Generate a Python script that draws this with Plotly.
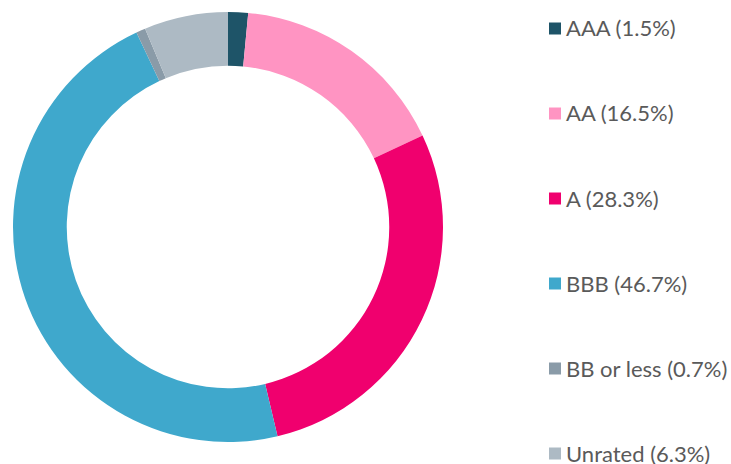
import plotly.graph_objects as go

labels = ["AAA", "AA", "A", "BBB", "BB or less", "Unrated"]
values = [1.5, 16.5, 28.3, 46.7, 0.7, 6.3]
colors = ["#1e5468", "#ff94c2", "#f0006e", "#3fa8cc", "#8a9ba8", "#adbac4"]

W, H = 731, 464

fig = go.Figure()
fig.add_trace(go.Pie(
    labels=labels, values=values, hole=0.75, sort=False, direction="clockwise",
    rotation=0, marker=dict(colors=colors, line=dict(width=0)),
    textinfo="none", hoverinfo="label+percent", showlegend=False,
    domain=dict(x=[13 / W, 443 / W], y=[22 / H, 452 / H]),
))

shapes = []
annotations = []
y0, gap = 28.5, 85
for i, (lab, val, col) in enumerate(zip(labels, values, colors)):
    yc = y0 + i * gap
    shapes.append(dict(type="rect", xref="paper", yref="paper",
                       x0=549 / W, x1=561 / W, y0=1 - (yc + 6) / H, y1=1 - (yc - 6) / H,
                       fillcolor=col, line=dict(width=0)))
    annotations.append(dict(xref="paper", yref="paper", x=564 / W, y=1 - (yc - 0.5) / H,
                            xanchor="left", yanchor="middle", showarrow=False,
                            text=f"{lab} ({val}%)",
                            font=dict(family="Lato", size=22, color="#5a5a5a")))

fig.update_layout(width=W, height=H, margin=dict(l=0, r=0, t=0, b=0),
                  paper_bgcolor="white", plot_bgcolor="white",
                  shapes=shapes, annotations=annotations)
fig.write_html("out.html", config={"displayModeBar": False},
               post_script="document.body.style.margin='0';")
